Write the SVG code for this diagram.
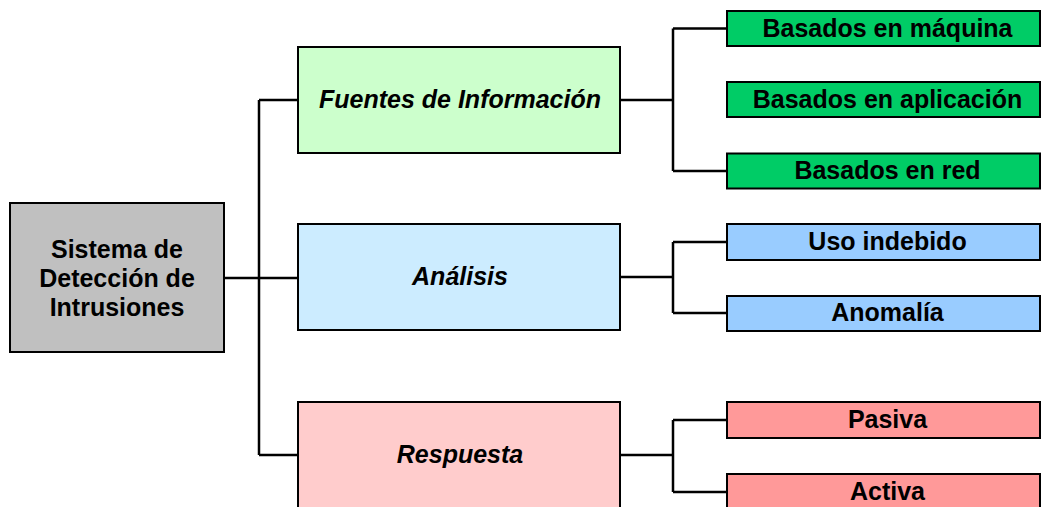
<svg xmlns="http://www.w3.org/2000/svg" width="1043" height="507" viewBox="0 0 1043 507">
<style>
.box{stroke:#000;stroke-width:2}
.t{font-family:"Liberation Sans",Arial,sans-serif;font-weight:bold;font-size:25px;fill:#000;text-anchor:middle}
.ti{font-family:"Liberation Sans",Arial,sans-serif;font-weight:bold;font-style:italic;font-size:25px;fill:#000;text-anchor:middle}
.c{fill:none;stroke:#000;stroke-width:2.5}
</style>
<rect width="1043" height="507" fill="#fff"/>
<g id="connectors">
<path class="c" d="M224 278H298M259 100V455M259 100H298M259 455H298"/>
<path class="c" d="M620 100H673M673 28.5V171M673 28.5H727M673 171H727"/>
<path class="c" d="M620 277H673M673 242V313M673 242H727M673 313H727"/>
<path class="c" d="M620 455H673M673 420V492M673 420H727M673 492H727"/>
</g>
<g id="root">
<rect class="box" x="10" y="203" width="214" height="149" fill="#C0C0C0"/>
<text class="t" x="117" y="258">Sistema de</text>
<text class="t" x="117" y="287">Detección de</text>
<text class="t" x="117" y="316">Intrusiones</text>
</g>
<g id="fuentes">
<rect class="box" x="298" y="47" width="322" height="106" fill="#CCFFCC"/>
<text class="ti" x="460" y="107.5">Fuentes de Información</text>
</g>
<g id="analisis">
<rect class="box" x="298" y="224" width="322" height="106" fill="#CCECFF"/>
<text class="ti" x="460" y="285">Análisis</text>
</g>
<g id="respuesta">
<rect class="box" x="298" y="402" width="322" height="110" fill="#FFCCCC"/>
<text class="ti" x="460" y="462.5">Respuesta</text>
</g>
<g id="maquina">
<rect class="box" x="727" y="11" width="313" height="35" fill="#00CC66"/>
<text class="t" x="887.5" y="36.5">Basados en máquina</text>
</g>
<g id="aplicacion">
<rect class="box" x="727" y="82" width="313" height="35" fill="#00CC66"/>
<text class="t" x="887.5" y="107.5">Basados en aplicación</text>
</g>
<g id="red">
<rect class="box" x="727" y="153.5" width="313" height="35" fill="#00CC66"/>
<text class="t" x="887.5" y="179">Basados en red</text>
</g>
<g id="uso">
<rect class="box" x="727" y="224" width="313" height="36" fill="#99CCFF"/>
<text class="t" x="887.5" y="250">Uso indebido</text>
</g>
<g id="anomalia">
<rect class="box" x="727" y="296" width="313" height="35" fill="#99CCFF"/>
<text class="t" x="887.5" y="321">Anomalía</text>
</g>
<g id="pasiva">
<rect class="box" x="727" y="402" width="313" height="36" fill="#FF9999"/>
<text class="t" x="887.5" y="428">Pasiva</text>
</g>
<g id="activa">
<rect class="box" x="727" y="474" width="313" height="40" fill="#FF9999"/>
<text class="t" x="887.5" y="500">Activa</text>
</g>
</svg>
